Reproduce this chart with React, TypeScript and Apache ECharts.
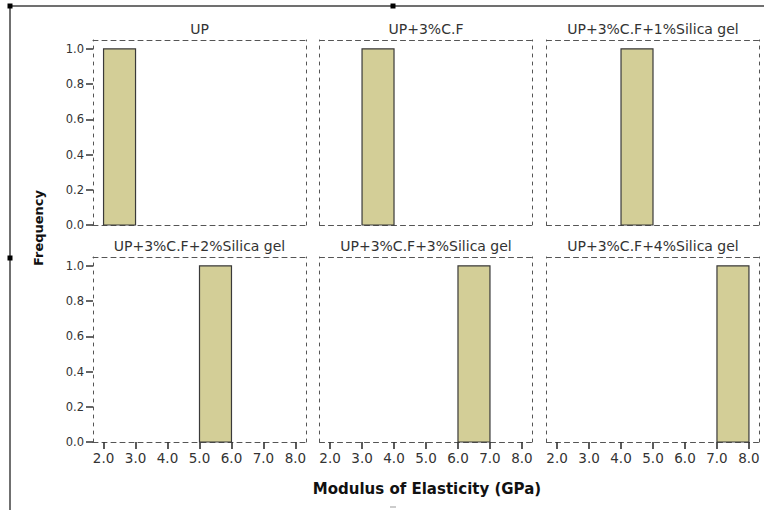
import React, { useEffect, useRef } from "react";
import * as echarts from "echarts";

// Histogram panels: one bin per material group
const panelTitles = [
  "UP",
  "UP+3%C.F",
  "UP+3%C.F+1%Silica gel",
  "UP+3%C.F+2%Silica gel",
  "UP+3%C.F+3%Silica gel",
  "UP+3%C.F+4%Silica gel",
];
const binStart = [2.0, 3.0, 4.0, 5.0, 6.0, 7.0];
const binEnd = [3.0, 4.0, 5.0, 6.0, 7.0, 8.0];
const frequency = [1, 1, 1, 1, 1, 1];
const xTicks = [2, 3, 4, 5, 6, 7, 8];
const yTicks = [0, 0.2, 0.4, 0.6, 0.8, 1.0];
const xTitle = "Modulus of Elasticity (GPa)";
const yTitle = "Frequency";

const X_MIN = 1.67;
const X_MAX = 8.33;
const Y_MAX = 1.05;

const colLeft = [93, 319.5, 546.5];
const rowTop = [40, 257];
const panelW = 213;
const panelH = 185;

const FONT = "DejaVu Sans";
const TEXT = "#333333";
const FRAME = "#555555";

export default function App() {
  const ref = useRef<HTMLDivElement>(null);

  useEffect(() => {
    if (!ref.current) return;
    const chart = echarts.init(ref.current, undefined, { renderer: "svg" });

    const grids: any[] = [];
    const xBottom: any[] = [];
    const xTop: any[] = [];
    const yLeft: any[] = [];
    const yRight: any[] = [];
    const series: any[] = [];
    const titles: any[] = [];

    panelTitles.forEach((title, i) => {
      const row = Math.floor(i / 3);
      const col = i % 3;
      grids.push({
        left: colLeft[col],
        top: rowTop[row],
        width: panelW,
        height: panelH,
        containLabel: false,
      });
      const hLine = { show: true, onZero: false, lineStyle: { color: FRAME, width: 1, type: [5, 4] } };
      const vLine = { show: true, onZero: false, lineStyle: { color: FRAME, width: 1, type: [3, 5] } };
      xBottom.push({
        type: "value",
        gridIndex: i,
        min: X_MIN,
        max: X_MAX,
        axisLine: hLine,
        axisTick: {
          show: row === 1,
          customValues: xTicks,
          length: 7,
          lineStyle: { color: "#333", width: 1.6 },
        },
        axisLabel: {
          show: row === 1,
          customValues: xTicks,
          formatter: (v: number) => v.toFixed(1),
          margin: 9,
          fontFamily: FONT,
          fontSize: 13.5,
          color: TEXT,
        },
        splitLine: { show: false },
      });
      xTop.push({
        type: "value",
        gridIndex: i,
        position: "top",
        min: X_MIN,
        max: X_MAX,
        axisLine: hLine,
        axisTick: { show: false },
        axisLabel: { show: false },
        splitLine: { show: false },
      });
      yLeft.push({
        type: "value",
        gridIndex: i,
        min: 0,
        max: Y_MAX,
        axisLine: vLine,
        axisTick: {
          show: col === 0,
          customValues: yTicks,
          length: 7,
          lineStyle: { color: "#333", width: 1.5 },
        },
        axisLabel: {
          show: col === 0,
          customValues: yTicks,
          formatter: (v: number) => v.toFixed(1),
          margin: 9,
          fontFamily: FONT,
          fontSize: 11.5,
          color: TEXT,
        },
        splitLine: { show: false },
      });
      yRight.push({
        type: "value",
        gridIndex: i,
        position: "right",
        min: 0,
        max: Y_MAX,
        axisLine: vLine,
        axisTick: { show: false },
        axisLabel: { show: false },
        splitLine: { show: false },
      });
      series.push({
        type: "custom",
        xAxisIndex: i,
        yAxisIndex: i,
        encode: { x: [0, 1], y: 2 },
        data: [[binStart[i], binEnd[i], frequency[i]]],
        renderItem: (_params: any, api: any) => {
          const p0 = api.coord([api.value(0), 0]);
          const p1 = api.coord([api.value(1), api.value(2)]);
          return {
            type: "rect",
            shape: { x: p0[0], y: p1[1], width: p1[0] - p0[0], height: p0[1] - p1[1] },
            style: { fill: "#d3ce97", stroke: "#3a3a3a", lineWidth: 1.2 },
          };
        },
      });
      titles.push({
        type: "text",
        x: colLeft[col] + panelW / 2,
        y: rowTop[row] - 11,
        style: {
          text: title,
          align: "center",
          verticalAlign: "middle",
          font: `14px "${FONT}"`,
          fill: TEXT,
        },
      });
    });

    const handle = (x: number, y: number) => ({
      type: "rect",
      shape: { x: x - 2.5, y: y - 2.5, width: 5, height: 5 },
      style: { fill: "#000" },
    });

    chart.setOption({
      animation: false,
      backgroundColor: "#ffffff",
      grid: grids,
      xAxis: [...xBottom, ...xTop],
      yAxis: [...yLeft, ...yRight],
      series,
      graphic: [
        {
          type: "line",
          shape: { x1: 10, y1: 6, x2: 764, y2: 6 },
          style: { stroke: "#707070", lineWidth: 2 },
        },
        {
          type: "line",
          shape: { x1: 10, y1: 6, x2: 10, y2: 510 },
          style: { stroke: "#707070", lineWidth: 2 },
        },
        {
          type: "line",
          shape: { x1: 390, y1: 507, x2: 396, y2: 507 },
          style: { stroke: "#bbbbbb", lineWidth: 1.5 },
        },
        handle(10, 6),
        handle(393, 6),
        handle(10, 258),
        ...titles,
        {
          type: "text",
          x: 38,
          y: 228,
          rotation: Math.PI / 2,
          style: {
            text: yTitle,
            align: "center",
            verticalAlign: "middle",
            font: `bold 13px "${FONT}"`,
            fill: "#111",
          },
        },
        {
          type: "text",
          x: 427,
          y: 489,
          style: {
            text: xTitle,
            align: "center",
            verticalAlign: "middle",
            font: `bold 15px "${FONT}"`,
            fill: "#111",
          },
        },
      ],
    });

    return () => chart.dispose();
  }, []);

  return (
    <div
      ref={ref}
      style={{ position: "absolute", left: 0, top: 0, width: 764, height: 510 }}
    />
  );
}
